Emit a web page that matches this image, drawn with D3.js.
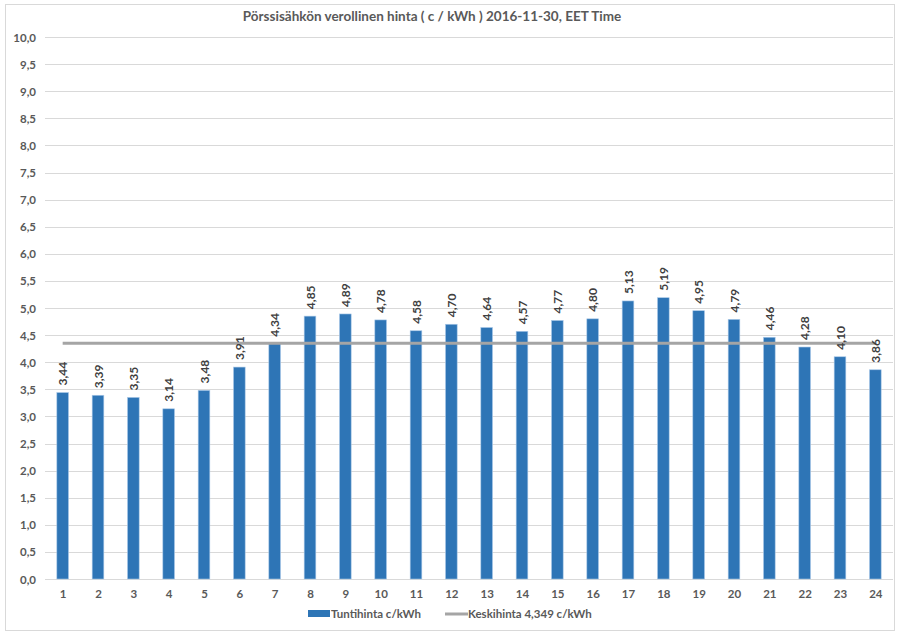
<!DOCTYPE html>
<html><head><meta charset="utf-8">
<script src="https://cdn.jsdelivr.net/npm/d3@7"></script>
<style>body{margin:0;background:#fff}svg{display:block}text{font-family:Lato,"Open Sans",sans-serif}</style>
</head><body><svg id="c" width="900" height="636"></svg>
<script>
const title = "Pörssisähkön verollinen hinta ( c / kWh ) 2016-11-30, EET Time";
const hours = ["1","2","3","4","5","6","7","8","9","10","11","12","13","14","15","16","17","18","19","20","21","22","23","24"];
const prices = [3.44,3.39,3.35,3.14,3.48,3.91,4.34,4.85,4.89,4.78,4.58,4.70,4.64,4.57,4.77,4.80,5.13,5.19,4.95,4.79,4.46,4.28,4.10,3.86];
const average = 4.349;
const yTicks = [0,0.5,1,1.5,2,2.5,3,3.5,4,4.5,5,5.5,6,6.5,7,7.5,8,8.5,9,9.5,10];
const barLabel = "Tuntihinta c/kWh";
const avgLabel = "Keskihinta 4,349 c/kWh";

const svg = d3.select("#c");
const fmt = v => d3.format(".1f")(v).replace(".", ",");
const fmt2 = v => d3.format(".2f")(v).replace(".", ",");

svg.append("rect").attr("x",5.5).attr("y",4.5).attr("width",889).attr("height",626)
  .attr("fill","#fff").attr("stroke","#d9d9d9");

const x = d3.scaleBand().domain(hours).range([45,893]).paddingInner(0.67).paddingOuter(0.335);
const xc = d3.scalePoint().domain(hours).range([45,893]).padding(0.5);
const y = d3.scaleLinear().domain([0,10]).range([579,37]);

// gridlines
svg.append("g").selectAll("line").data(yTicks).join("line")
  .attr("x1",45).attr("x2",893).attr("y1",d=>Math.round(y(d))+0.5).attr("y2",d=>Math.round(y(d))+0.5)
  .attr("stroke","#d9d9d9").attr("stroke-width",1);

// y axis labels
const yAxis = d3.axisLeft(y).tickValues(yTicks).tickFormat(fmt).tickSize(0).tickPadding(0);
const gy = svg.append("g").attr("transform","translate(36,0)").call(yAxis);
gy.select(".domain").remove();
gy.selectAll("text").attr("font-size",11.5).attr("font-weight","bold").attr("fill","#595959").attr("dy","0.35em");

// x axis
const xAxis = d3.axisBottom(xc).tickSize(0).tickPadding(0);
const gx = svg.append("g").attr("transform","translate(0,590)").call(xAxis);
gx.select(".domain").remove();
gx.selectAll("text").attr("font-size",11.5).attr("font-weight","bold").attr("fill","#595959").attr("dy","0.71em");

// bars
svg.append("g").selectAll("rect").data(prices).join("rect")
  .attr("x",(d,i)=>x(hours[i])).attr("width",x.bandwidth())
  .attr("y",d=>y(d)).attr("height",d=>y(0)-y(d))
  .attr("fill","#2e75b6").attr("stroke","#a9c8e8").attr("stroke-width",0.6);

// average line
svg.append("line").attr("x1",xc(hours[0])).attr("x2",xc(hours[hours.length-1]))
  .attr("y1",y(average)).attr("y2",y(average)).attr("stroke","#a5a5a5").attr("stroke-width",3);

// data labels
svg.append("g").selectAll("text").data(prices).join("text")
  .attr("transform",(d,i)=>`translate(${xc(hours[i])+4.5},${y(d)-7}) rotate(-90)`)
  .attr("font-size",12).attr("font-weight","bold").attr("fill","#404040")
  .text(d=>fmt2(d));

// title
svg.append("text").attr("x",432).attr("y",21).attr("text-anchor","middle")
  .attr("font-size",13.5).attr("font-weight","bold").attr("fill","#595959").text(title);

// legend
const lg = svg.append("g");
lg.append("rect").attr("x",308).attr("y",610).attr("width",22).attr("height",7).attr("fill","#2e75b6");
lg.append("text").attr("x",331).attr("y",618).attr("font-size",11.5).attr("font-weight","bold").attr("fill","#595959").text(barLabel);
lg.append("line").attr("x1",445).attr("x2",468).attr("y1",614).attr("y2",614).attr("stroke","#a5a5a5").attr("stroke-width",3);
lg.append("text").attr("x",468).attr("y",618).attr("font-size",11.5).attr("font-weight","bold").attr("fill","#595959").text(avgLabel);
</script></body></html>
